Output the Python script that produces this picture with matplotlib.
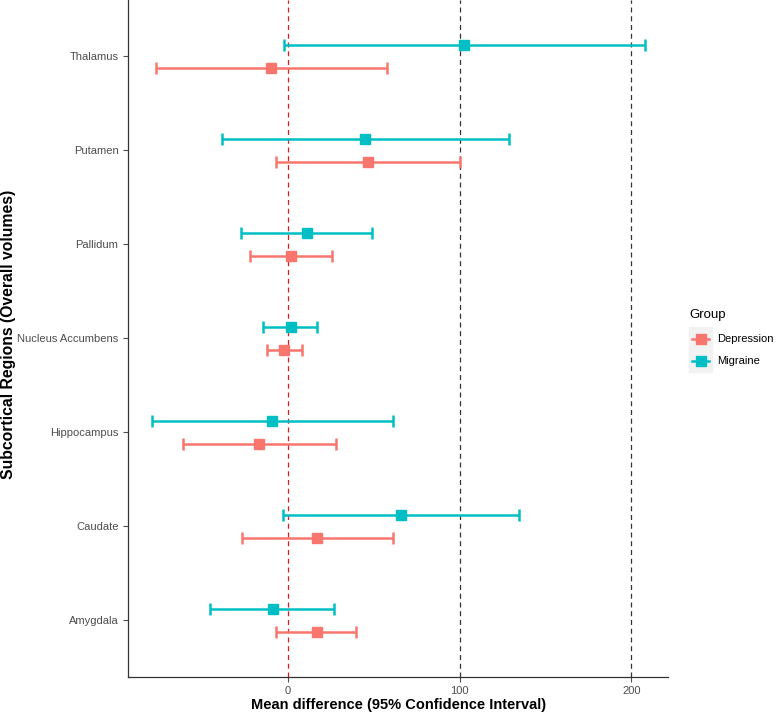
import matplotlib.pyplot as plt
import numpy as np
from matplotlib.lines import Line2D
from matplotlib.patches import Rectangle

plt.rcParams['font.family'] = ['Liberation Sans', 'DejaVu Sans']

regions = ["Amygdala", "Caudate", "Hippocampus", "Nucleus Accumbens",
           "Pallidum", "Putamen", "Thalamus"]

# Depression: mean, lower, upper
dep_mean = [16.7, 16.7, -17.1, -2.3, 1.7, 46.6, -10.1]
dep_low = [-7.2, -27.0, -61.0, -12.4, -21.8, -7.0, -77.1]
dep_high = [39.7, 61.0, 28.0, 8.0, 25.7, 100.1, 57.5]

# Migraine: mean, lower, upper
mig_mean = [-8.6, 65.7, -9.1, 2.1, 10.9, 44.9, 102.6]
mig_low = [-45.5, -3.1, -79.1, -14.4, -27.4, -38.1, -2.2]
mig_high = [27.0, 134.7, 61.0, 16.7, 48.8, 128.9, 208.0]

red = '#F8766D'
teal = '#00BFC4'

fig = plt.figure(figsize=(7.77, 7.13), dpi=100)
ax = fig.add_axes([0.165, 0.051, 0.695, 0.949])

y = np.arange(1, len(regions) + 1)
off = 0.125

ax.axvline(0, color='#E41A1C', ls=(0, (4, 3)), lw=0.9, zorder=1)
for v in [100, 200]:
    ax.axvline(v, color='#333333', ls=(0, (4, 3)), lw=0.9, zorder=1)

for means, lo, hi, yy, col in [(dep_mean, dep_low, dep_high, y - off, red),
                               (mig_mean, mig_low, mig_high, y + off, teal)]:
    means = np.array(means)
    err = [means - np.array(lo), np.array(hi) - means]
    ax.errorbar(means, yy, xerr=err, fmt='s', color=col, ms=7.5,
                elinewidth=1.8, capsize=4.5, capthick=1.8, zorder=3)

ax.set_xlim(-93, 221.5)
ax.set_ylim(0.4, 7.6)
ax.set_yticks(y)
ax.set_yticklabels(regions)
ax.set_xticks([0, 100, 200])
ax.tick_params(axis='both', colors='#4D4D4D', labelsize=8, length=3.5,
               width=0.8, labelcolor='#4D4D4D')
ax.tick_params(axis='x', pad=3)

for s in ['top', 'right']:
    ax.spines[s].set_visible(False)
for s in ['left', 'bottom']:
    ax.spines[s].set_color('#333333')
    ax.spines[s].set_linewidth(0.9)

ax.set_xlabel("Mean difference (95% Confidence Interval)", fontsize=10.5,
              fontweight='bold', labelpad=2)
ax.set_ylabel("Subcortical Regions (Overall volumes)", fontsize=11.3,
              fontweight='bold')
ax.yaxis.set_label_coords(-0.208, 0.506)

# legend
fig.patches.append(Rectangle((689 / 777, 1 - 372 / 713), 23 / 777, 45 / 713,
                             transform=fig.transFigure, color='#F2F2F2',
                             zorder=0))
fig.text(689 / 777, 1 - 315 / 713, "Group", fontsize=9.5, va='center',
         ha='left', color='black')
for name, col, yp in [("Depression", red, 339), ("Migraine", teal, 361)]:
    fig.lines.append(Line2D([692 / 777, 709 / 777], [1 - yp / 713] * 2,
                            transform=fig.transFigure, color=col, lw=1.8))
    fig.lines.append(Line2D([700.5 / 777], [1 - yp / 713], marker='s',
                            ms=6.5, color=col, transform=fig.transFigure))
    fig.text(717 / 777, 1 - yp / 713, name, fontsize=8, va='center',
             ha='left', color='black')

fig.savefig('out.png', dpi=100)
